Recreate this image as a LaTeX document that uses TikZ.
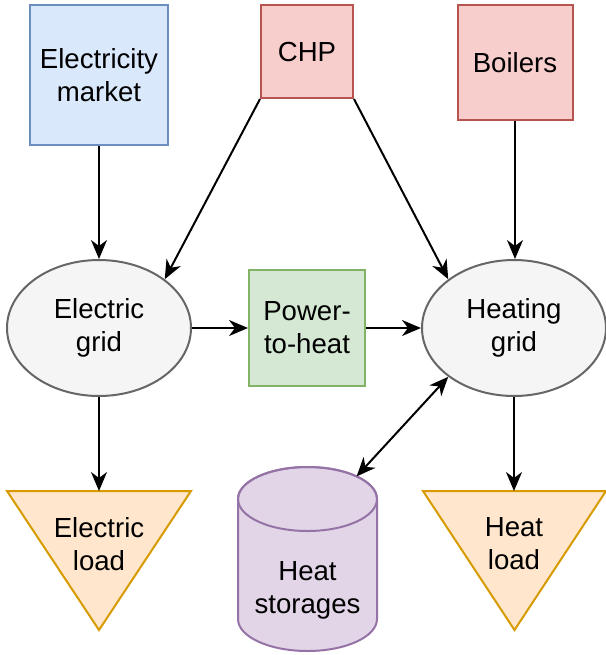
\documentclass[tikz,border=0pt]{standalone}
\usepackage{fontspec}
\setmainfont{Liberation Sans}
\usetikzlibrary{arrows.meta, shapes.geometric, positioning}
\definecolor{mktfill}{HTML}{DAE8FC}\definecolor{mktline}{HTML}{6C8EBF}
\definecolor{genfill}{HTML}{F8CECC}\definecolor{genline}{HTML}{B85450}
\definecolor{p2hfill}{HTML}{D5E8D4}\definecolor{p2hline}{HTML}{82B366}
\definecolor{gridfill}{HTML}{F5F5F5}\definecolor{gridline}{HTML}{666666}
\definecolor{loadfill}{HTML}{FFE6CC}\definecolor{loadline}{HTML}{D79B00}
\definecolor{storfill}{HTML}{E1D5E7}\definecolor{storline}{HTML}{9673A6}

\begin{document}
\begin{tikzpicture}[x=0.5pt, y=-0.5pt, line width=1pt,
  >={Stealth[length=9.5pt, width=8pt, inset=3pt]},
  lbl/.style={align=center, inner sep=0pt, font=\fontsize{13.8}{16.5}\selectfont},
  mkt/.style={lbl, draw=mktline, fill=mktfill},
  gen/.style={lbl, draw=genline, fill=genfill},
  conv/.style={lbl, draw=p2hline, fill=p2hfill},
  grid/.style={lbl, ellipse, draw=gridline, fill=gridfill, minimum width=92pt, minimum height=68pt},
  load/.style={draw=loadline, fill=loadfill},
  stor/.style={draw=storline, fill=storfill}]
  \useasboundingbox (0,0) rectangle (606,655);
  % sources
  \node[mkt, minimum width=69pt, minimum height=70pt] (market) at (99,75) {Electricity\\market};
  \node[gen, minimum width=46pt, minimum height=46.5pt] (chp) at (307,51.5) {CHP};
  \node[gen, minimum width=57.5pt, minimum height=57.5pt] (boilers) at (515,62.5) {Boilers};
  % grids and conversion
  \node[grid] (egrid) at (99,328) {Electric\\grid};
  \node[conv, minimum width=58pt, minimum height=58pt] (p2h) at (307,328) {Power-\\to-heat};
  \node[grid] (hgrid) at (514,328) {Heating\\grid};
  % loads
  \draw[load] (7,491) -- (191,491) -- (99,630) -- cycle;
  \coordinate (eload-top) at (99,491);
  \node[lbl] (eload) at (99,544) {Electric\\load};
  \draw[load] (423,491) -- (606,491) -- (514.5,630) -- cycle;
  \coordinate (hload-top) at (514,491);
  \node[lbl] (hload) at (514,544) {Heat\\load};
  % storage cylinder
  \draw[stor] (238,499) -- (238,619)
    arc[start angle=180, end angle=360, x radius=34.75pt, y radius=16pt] -- (377,499)
    arc[start angle=0, end angle=180, x radius=34.75pt, y radius=16pt] -- cycle;
  \draw[storline] (307.5,499) ellipse[x radius=34.75pt, y radius=16pt];
  \coordinate (stor-top) at (356.6,476.4);
  \node[lbl] (storage) at (307.5,590) {Heat\\storages};
  % flows
  \draw[->] (market) -- (egrid);
  \draw[->] (chp.south west) -- (egrid.north east);
  \draw[->] (chp.south east) -- (hgrid.north west);
  \draw[->] (boilers.south) -- (boilers.south |- hgrid.north);
  \draw[->] (egrid) -- (p2h);
  \draw[->] (p2h) -- (hgrid);
  \draw[->] (egrid) -- (eload-top);
  \draw[->] (hgrid) -- (hload-top);
  \draw[<->] (stor-top) -- (hgrid.south west);
\end{tikzpicture}
\end{document}
